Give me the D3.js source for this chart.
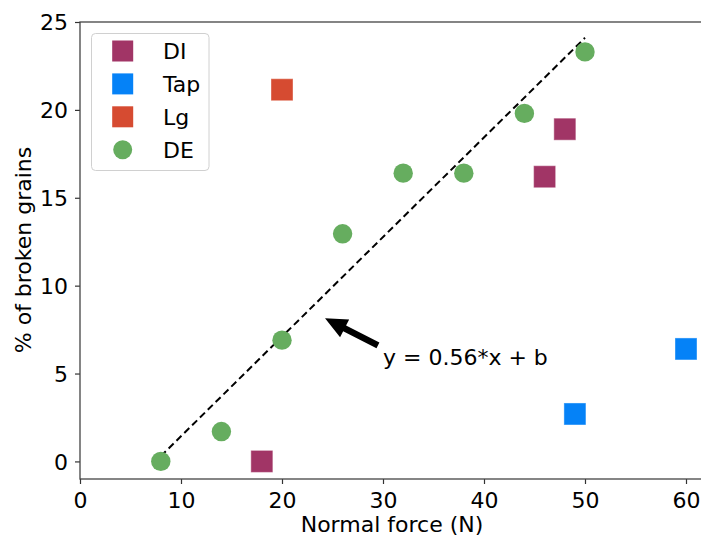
<!DOCTYPE html>
<html><head><meta charset="utf-8">
<script src="https://cdn.jsdelivr.net/npm/d3@7"></script>
<style>body{margin:0;background:#fff}svg{display:block}text{font-family:"DejaVu Sans",sans-serif}</style>
</head><body>
<script>
const W = 701, H = 536;
const xTicks = [0, 10, 20, 30, 40, 50, 60];
const yTicks = [0, 5, 10, 15, 20, 25];
const seriesNames = ["DI", "Tap", "Lg", "DE"];
const seriesColors = ["#a13566", "#0582f7", "#d64b31", "#66ad5f"];
const seriesShapes = ["square", "square", "square", "circle"];
const diX = [18, 46, 48];
const diY = [0, 16.2, 18.9];
const tapX = [49, 60];
const tapY = [2.7, 6.4];
const lgX = [20];
const lgY = [21.15];
const deX = [8, 14, 20, 26, 32, 38, 44, 50];
const deY = [0, 1.7, 6.9, 12.95, 16.4, 16.4, 19.8, 23.3];
const fitX = [8, 50];
const fitY = [0.3, 24.1];
const arrowTip = [24.26, 8.14];
const arrowTail = [29.5, 6.6];
const eqLabel = "y = 0.56*x + b";
const xLabel = "Normal force (N)";
const yLabel = "% of broken grains";

const mLeft = 80, mTop = 22, mBottom = 479;
const x = d3.scaleLinear().domain([0, 62.6]).range([mLeft, mLeft + 62.6 * 10.1]);
const y = d3.scaleLinear().domain([-1, 25]).range([mBottom, mTop]);
const mRight = x(62.6);

const svg = d3.select("body").append("svg").attr("width", W).attr("height", H);

// axes
const gx = svg.append("g").attr("transform", `translate(0,${mBottom})`)
  .call(d3.axisBottom(x).tickValues(xTicks).tickSize(5).tickPadding(8).tickFormat(d3.format("d")));
const gy = svg.append("g").attr("transform", `translate(${mLeft},0)`)
  .call(d3.axisLeft(y).tickValues(yTicks).tickSize(5).tickPadding(7).tickFormat(d3.format("d")));
[gx, gy].forEach(g => {
  g.select(".domain").remove();
  g.selectAll(".tick line").attr("stroke", "#333").attr("stroke-width", 1.2);
  g.selectAll(".tick text").attr("font-size", 22).attr("fill", "#000").attr("font-family", "DejaVu Sans");
});
gx.selectAll(".tick text").attr("dy", "0.72em");
gy.selectAll(".tick text").attr("dy", "0.36em");

// spines
const sp = svg.append("g").attr("stroke", "#444").attr("stroke-width", 1.3).attr("fill", "none");
sp.append("rect").attr("x", mLeft).attr("y", mTop).attr("width", mRight - mLeft).attr("height", mBottom - mTop);

// fit line
svg.append("line")
  .attr("x1", x(fitX[0])).attr("y1", y(fitY[0])).attr("x2", x(fitX[1])).attr("y2", y(fitY[1]))
  .attr("stroke", "#000").attr("stroke-width", 2).attr("stroke-dasharray", "7,4");

// markers
const sets = [[diX, diY], [tapX, tapY], [lgX, lgY], [deX, deY]];
const sq = 21, r = 9.7;
sets.forEach(([xs, ys], i) => {
  const pts = xs.map((v, j) => [v, ys[j]]);
  if (seriesShapes[i] === "square") {
    svg.append("g").selectAll("rect").data(pts).join("rect")
      .attr("x", d => x(d[0]) - sq / 2).attr("y", d => y(d[1]) - sq / 2)
      .attr("width", sq).attr("height", sq)
      .attr("fill", seriesColors[i]).attr("stroke", seriesColors[i]).attr("stroke-opacity", 0.6).attr("stroke-width", 1);
  } else {
    svg.append("g").selectAll("circle").data(pts).join("circle")
      .attr("cx", d => x(d[0])).attr("cy", d => y(d[1])).attr("r", r)
      .attr("fill", seriesColors[i]);
  }
});

// arrow
(function () {
  const tx = x(arrowTip[0]), ty = y(arrowTip[1]);
  const sx = x(arrowTail[0]), sy = y(arrowTail[1]);
  const dx = tx - sx, dy = ty - sy, L = Math.hypot(dx, dy);
  const ux = dx / L, uy = dy / L, nx = -uy, ny = ux;
  const hl = 22, hw = 10, sw = 3.2;
  const bx = tx - ux * hl, by = ty - uy * hl;
  const p = [
    [sx + nx * sw, sy + ny * sw], [bx + nx * sw, by + ny * sw], [bx + nx * hw, by + ny * hw],
    [tx, ty], [bx - nx * hw, by - ny * hw], [bx - nx * sw, by - ny * sw], [sx - nx * sw, sy - ny * sw]
  ];
  svg.append("path").attr("d", "M" + p.map(q => q.join(",")).join("L") + "Z").attr("fill", "#000");
})();
svg.append("text").attr("x", 383).attr("y", 365).attr("font-size", 22).text(eqLabel);

// axis labels
svg.append("text").attr("x", 392).attr("y", 532).attr("text-anchor", "middle")
  .attr("font-size", 22).text(xLabel);
svg.append("text").attr("transform", "translate(31,250) rotate(-90)").attr("text-anchor", "middle")
  .attr("font-size", 22).text(yLabel);

// legend
const lg = svg.append("g");
lg.append("rect").attr("x", 91.5).attr("y", 33.5).attr("width", 117.5).attr("height", 137).attr("rx", 4)
  .attr("fill", "#fff").attr("fill-opacity", 0.8).attr("stroke", "#d0d0d0").attr("stroke-width", 1);
seriesNames.forEach((n, i) => {
  const cy = 51 + i * 32.9;
  if (seriesShapes[i] === "square") {
    lg.append("rect").attr("x", 122.7 - sq / 2).attr("y", cy - sq / 2).attr("width", sq).attr("height", sq)
      .attr("fill", seriesColors[i]);
  } else {
    lg.append("circle").attr("cx", 122.7).attr("cy", cy).attr("r", 9.5).attr("fill", seriesColors[i]);
  }
  lg.append("text").attr("x", 163).attr("y", cy).attr("dy", "0.36em").attr("font-size", 22).text(n);
});
</script>
</body></html>
